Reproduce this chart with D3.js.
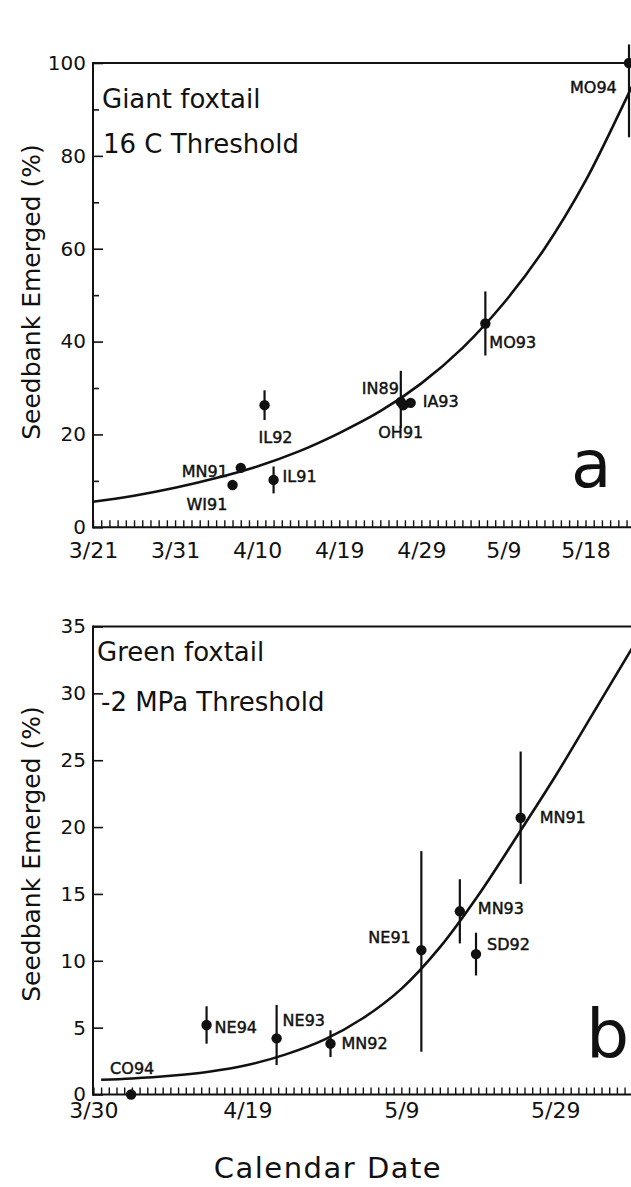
<!DOCTYPE html>
<html><head><meta charset="utf-8">
<script src="https://cdn.jsdelivr.net/npm/d3@7"></script>
<style>
body{margin:0;background:#fff}
svg{display:block}
text{font-family:"DejaVu Sans",sans-serif;fill:#111}
</style>
</head><body>
<svg id="c" width="631" height="1187"></svg>
<script>
// ---------- Panel a: Giant foxtail, 16 C threshold ----------
const aSites    = ["WI91","MN91","IL92","IL91","IN89","OH91","IA93","MO93","MO94"];
const aDays     = [17.0, 18.0, 20.9, 22.0, 37.5, 37.8, 38.7, 47.8, 65.3];   // days after 3/21
const aValues   = [9.1, 12.8, 26.3, 10.2, 27.0, 26.3, 26.8, 43.9, 100];
const aErrLow   = [0, 0, 3.2, 2.9, 5.6, 0, 0, 6.9, 16];
const aErrHigh  = [0, 0, 3.2, 2.9, 6.7, 0, 0, 6.9, 4];
const aCurveDays   = [0, 5, 10, 15, 20, 25, 30, 35, 40, 45, 50, 55, 60, 65, 67];
const aCurveValues = [5.5, 6.8, 8.5, 10.6, 13.1, 16.3, 20.3, 25.0, 31.0, 38.6, 48.2, 60.0, 74.6, 92.5, 100];
const aTickDays   = [0, 10, 20, 30, 40, 50, 60];
const aTickLabels = ["3/21","3/31","4/10","4/19","4/29","5/9","5/18"];
const aYTicks      = [0, 20, 40, 60, 80, 100];
const aYMinorTicks = [10, 30, 50, 70, 90];

// ---------- Panel b: Green foxtail, -2 MPa threshold ----------
const bSites    = ["CO94","NE94","NE93","MN92","NE91","MN93","SD92","MN91"];
const bDays     = [4.9, 14.7, 23.8, 30.8, 42.6, 47.6, 49.7, 55.5];         // days after 3/30
const bValues   = [0.0, 5.2, 4.2, 3.8, 10.8, 13.7, 10.5, 20.7];
const bErrLow   = [0, 1.4, 2.0, 1.0, 7.6, 2.4, 1.6, 4.95];
const bErrHigh  = [0, 1.4, 2.5, 1.0, 7.4, 2.4, 1.6, 4.95];
const bCurveDays   = [1, 5, 10, 15, 20, 25, 30, 35, 40, 45, 50, 55, 60, 65, 70, 72];
const bCurveValues = [1.1, 1.2, 1.4, 1.7, 2.2, 3.0, 4.1, 5.7, 7.9, 11.0, 14.9, 19.3, 23.8, 28.6, 33.4, 35.3];
const bTickDays   = [0, 20, 40, 60];
const bTickLabels = ["3/30","4/19","5/9","5/29"];
const bYTicks = [0, 5, 10, 15, 20, 25, 30, 35];

// ---------- layout (label offsets from the point, in px) ----------
const aLabelOffsets = {WI91:[-46,25], MN91:[-59,9], IL92:[-6,38], IL91:[9,2], IN89:[-39,-8],
                       OH91:[-25,33], IA93:[12,4], MO93:[4,25], MO94:[-59,30]};
const bLabelOffsets = {CO94:[-21,-21], NE94:[8,8], NE93:[6,-12], MN92:[11,5], NE91:[-53,-7],
                       MN93:[18,3], SD92:[11,-4], MN91:[19,5]};

const svg = d3.select("#c");
const INK = "#111";

function panel(cfg){
  const {x, y, left, top, bottom, right} = cfg;
  const g = svg.append("g");

  g.append("line").attr("x1",left).attr("x2",right).attr("y1",top).attr("y2",top)
    .attr("stroke",INK).attr("stroke-width",2);
  g.append("line").attr("x1",left).attr("x2",left).attr("y1",top-1).attr("y2",bottom+1)
    .attr("stroke",INK).attr("stroke-width",2);
  g.append("line").attr("x1",left-1).attr("x2",right).attr("y1",bottom).attr("y2",bottom)
    .attr("stroke",INK).attr("stroke-width",2);

  const ya = g.append("g").attr("transform",`translate(${left},0)`)
    .call(d3.axisLeft(y).tickValues(cfg.yTicks).tickSize(-10).tickPadding(7).tickFormat(d3.format("d")));
  ya.select(".domain").remove();
  ya.selectAll("line").attr("stroke",INK).attr("stroke-width",1.6);
  ya.selectAll("text").style("font-size","20px").attr("fill",INK);
  if (cfg.yMinor){
    const ym = g.append("g").attr("transform",`translate(${left},0)`)
      .call(d3.axisLeft(y).tickValues(cfg.yMinor).tickSize(-6).tickFormat(""));
    ym.select(".domain").remove();
    ym.selectAll("line").attr("stroke",INK).attr("stroke-width",1.6);
  }

  const dayMax = Math.floor(x.invert(right));
  const xm = g.append("g").attr("transform",`translate(0,${bottom})`)
    .call(d3.axisBottom(x).tickValues(d3.range(0, dayMax+1)).tickSize(-7).tickFormat(""));
  xm.select(".domain").remove();
  xm.selectAll("line").attr("stroke",INK).attr("stroke-width",1.4);
  const xl = g.append("g").attr("transform",`translate(0,${bottom})`)
    .call(d3.axisBottom(x).tickValues(cfg.xTicks).tickSize(0).tickPadding(cfg.xPad)
      .tickFormat((d,i)=>cfg.xLabels[i]));
  xl.select(".domain").remove();
  xl.selectAll("text").style("font-size","22px").attr("fill",INK);

  const line = d3.line().x(d=>x(d[0])).y(d=>y(d[1])).curve(d3.curveCatmullRom.alpha(0.5));
  g.append("path").datum(d3.zip(cfg.curveDays, cfg.curveValues))
    .attr("d",line).attr("fill","none").attr("stroke",INK).attr("stroke-width",2.6);

  const pts = cfg.sites.map((s,i)=>({s, d:cfg.days[i], v:cfg.values[i], lo:cfg.errLow[i], hi:cfg.errHigh[i]}));
  g.selectAll(".err").data(pts.filter(p=>p.lo>0||p.hi>0)).join("line")
    .attr("x1",p=>x(p.d)).attr("x2",p=>x(p.d))
    .attr("y1",p=>y(p.v+p.hi)).attr("y2",p=>y(p.v-p.lo))
    .attr("stroke",INK).attr("stroke-width",2.2);
  g.selectAll(".pt").data(pts).join("circle")
    .attr("cx",p=>x(p.d)).attr("cy",p=>y(p.v)).attr("r",5.2).attr("fill",INK);
  g.selectAll(".lab").data(pts).join("text")
    .attr("x",p=>x(p.d)+cfg.offsets[p.s][0]).attr("y",p=>y(p.v)+cfg.offsets[p.s][1])
    .style("font-size","16px").attr("stroke",INK).attr("stroke-width",0.45).text(p=>p.s);

  cfg.titles.forEach(t=>{
    g.append("text").attr("x",t[0]).attr("y",t[1]).style("font-size","26px").text(t[2]);
  });
  g.append("text").attr("x",cfg.letter[0]).attr("y",cfg.letter[1])
    .style("font-size",cfg.letter[3]+"px").text(cfg.letter[2]);

  g.append("text").attr("transform",`translate(31,${cfg.yTitleY}) rotate(-90)`)
    .attr("text-anchor","middle").attr("dominant-baseline","central")
    .style("font-size","25px").text("Seedbank Emerged (%)");
}

panel({
  x: d3.scaleLinear().domain([0,60]).range([93,585.5]),
  y: d3.scaleLinear().domain([0,100]).range([527.3,63]),
  left:93, top:63, bottom:527.3, right:640,
  yTicks:aYTicks, yMinor:aYMinorTicks,
  xTicks:aTickDays, xLabels:aTickLabels, xPad:15,
  curveDays:aCurveDays, curveValues:aCurveValues,
  sites:aSites, days:aDays, values:aValues, errLow:aErrLow, errHigh:aErrHigh,
  offsets:aLabelOffsets,
  titles:[[102,108,"Giant foxtail"],[103,153,"16 C Threshold"]],
  letter:[571,487,"a",66],
  yTitleY:292
});

panel({
  x: d3.scaleLinear().domain([0,60]).range([93.4,555.3]),
  y: d3.scaleLinear().domain([0,35]).range([1094.5,626.5]),
  left:93, top:626.5, bottom:1094.5, right:640,
  yTicks:bYTicks, yMinor:null,
  xTicks:bTickDays, xLabels:bTickLabels, xPad:8,
  curveDays:bCurveDays, curveValues:bCurveValues,
  sites:bSites, days:bDays, values:bValues, errLow:bErrLow, errHigh:bErrHigh,
  offsets:bLabelOffsets,
  titles:[[97,661,"Green foxtail"],[101,711,"-2 MPa Threshold"]],
  letter:[586,1058,"b",68],
  yTitleY:854
});

svg.append("text").attr("x",328).attr("y",1178).attr("text-anchor","middle")
  .style("font-size","29px").style("letter-spacing","1.5px").text("Calendar Date");
</script>
</body></html>
